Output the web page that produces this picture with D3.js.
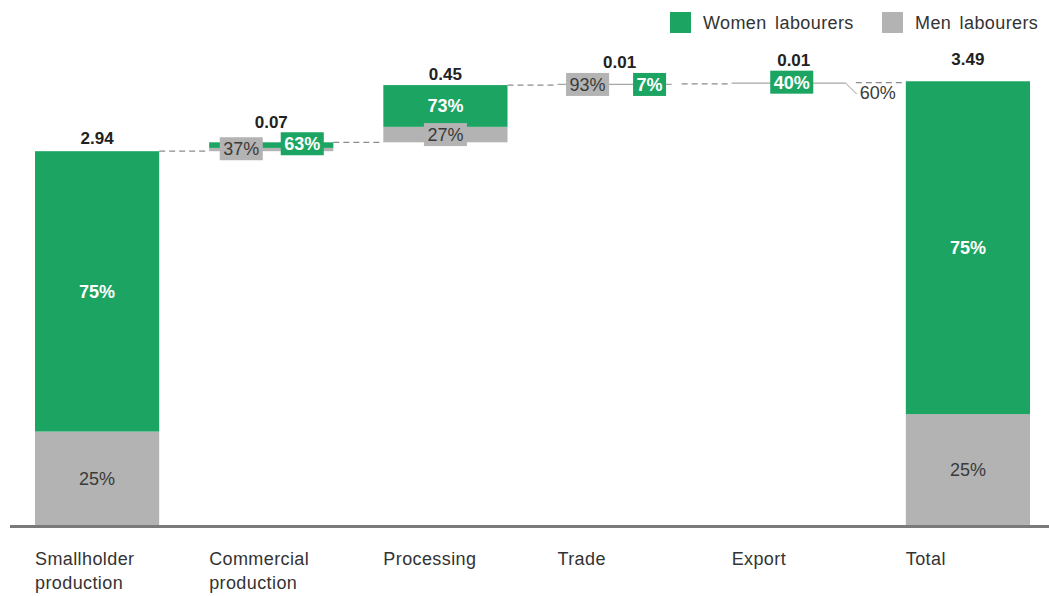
<!DOCTYPE html>
<html>
<head>
<meta charset="utf-8">
<script src="https://d3js.org/d3.v7.min.js"></script>
<style>
  html, body { margin: 0; padding: 0; background: #fff; }
  svg { display: block; font-family: "Liberation Sans", Arial, sans-serif; }
</style>
</head>
<body>
<svg id="chart" width="1049" height="596"></svg>
<script>
// ---- data ----
const categories = ["Smallholder production", "Commercial production", "Processing", "Trade", "Export", "Total"];
const values = [2.94, 0.07, 0.45, 0.01, 0.01, 3.49];
const isTotal = [false, false, false, false, false, true];
const womenShare = [75, 63, 73, 7, 40, 75];
const menShare = [25, 37, 27, 93, 60, 25];
const seriesNames = ["Women labourers", "Men labourers"];

// ---- style / layout ----
const GREEN = "#1ca462", GREY = "#b3b3b3";
const W = 1049, H = 596;
const baseY = 525;
const svg = d3.select("#chart");

const x = d3.scaleBand().domain(categories).range([35, 1030]).paddingInner(0.287).paddingOuter(0);
const y = d3.scaleLinear().domain([0, 3.5]).range([baseY, 80]);

// label offsets for thin bars: [dx from band centre, dy from bar centre]
const labelLayout = {
  1: { women: [31, -3], men: [-30, 2] },
  3: { women: [30, 0], men: [-32, 0] },
  4: { women: [-2, -1], men: "leader" }
};
const valueGap = [7, 4, 5, 5, 5, 16];

// compute bar geometry
let cum = 0;
const bars = categories.map((c, i) => {
  let base, top;
  if (isTotal[i]) { base = 0; top = values[i]; }
  else { base = cum; top = cum + values[i]; cum = top; }
  const menTop = base + values[i] * menShare[i] / 100;
  return { c, i, base, top, menTop };
});

// connectors
const conn = svg.append("g");
bars.forEach((b, i) => {
  if (i === bars.length - 1) return;
  const nb = bars[i + 1];
  conn.append("line")
    .attr("x1", x(b.c) + x.bandwidth()).attr("x2", x(nb.c))
    .attr("y1", y(b.top)).attr("y2", y(b.top))
    .attr("stroke", "#8c8c8c").attr("stroke-width", 1.2)
    .attr("stroke-dasharray", "6,4");
});

// bars
const gBars = svg.append("g");
bars.forEach(b => {
  const hTot = y(b.base) - y(b.top);
  if (hTot < 3) {
    // hairline-thin bar: drawn as a single thin line
    gBars.append("line")
      .attr("x1", x(b.c)).attr("x2", x(b.c) + x.bandwidth() - 10)
      .attr("y1", y((b.top + b.base) / 2)).attr("y2", y((b.top + b.base) / 2))
      .attr("stroke", "#a6a6a6").attr("stroke-width", 1.2);
    return;
  }
  gBars.append("rect")
    .attr("x", x(b.c)).attr("width", x.bandwidth())
    .attr("y", y(b.menTop)).attr("height", y(b.base) - y(b.menTop))
    .attr("fill", GREY);
  gBars.append("rect")
    .attr("x", x(b.c)).attr("width", x.bandwidth())
    .attr("y", y(b.top)).attr("height", y(b.menTop) - y(b.top))
    .attr("fill", GREEN);
});

// axis baseline
svg.append("line").attr("x1", 10).attr("x2", W).attr("y1", baseY + 1.5).attr("y2", baseY + 1.5)
  .attr("stroke", "#7a7a7a").attr("stroke-width", 3);

// share labels
const gLab = svg.append("g");
function boxLabel(cx, cy, text, isWomen) {
  const g = gLab.append("g");
  const t = g.append("text").attr("x", cx).attr("y", cy + 6.5)
    .attr("text-anchor", "middle")
    .attr("font-size", 18)
    .attr("font-weight", isWomen ? "bold" : "normal")
    .attr("fill", isWomen ? "#fff" : "#3a3a3a")
    .text(text);
  const w = t.node().getComputedTextLength() + 7;
  g.insert("rect", "text").attr("x", cx - w / 2).attr("y", cy - 11.5)
    .attr("width", w).attr("height", 23).attr("fill", isWomen ? GREEN : GREY);
  return w;
}
const boxTops = {};
bars.forEach(b => {
  const cx = x(b.c) + x.bandwidth() / 2;
  const lay = labelLayout[b.i];
  boxTops[b.i] = y(b.top);
  if (!lay) {
    const wy = (y(b.top) + y(b.menTop)) / 2;
    const my = (y(b.menTop) + y(b.base)) / 2;
    boxLabel(cx, wy, womenShare[b.i] + "%", true);
    boxLabel(cx, my, menShare[b.i] + "%", false);
  } else {
    const cy = (y(b.top) + y(b.base)) / 2;
    boxLabel(cx + lay.women[0], cy + lay.women[1], womenShare[b.i] + "%", true);
    boxTops[b.i] = Math.min(boxTops[b.i], cy + lay.women[1] - 11.5);
    if (lay.men === "leader") {
      gLab.append("polyline")
        .attr("points", [[cx + 52, cy], [cx + 63, cy + 11]].map(p => p.join(",")).join(" "))
        .attr("fill", "none").attr("stroke", "#999").attr("stroke-width", 1);
      gLab.append("text").attr("x", cx + 66).attr("y", cy + 16)
        .attr("font-size", 18).attr("fill", "#3a3a3a").text(menShare[b.i] + "%");
    } else {
      boxLabel(cx + lay.men[0], cy + lay.men[1], menShare[b.i] + "%", false);
      boxTops[b.i] = Math.min(boxTops[b.i], cy + lay.men[1] - 11.5);
    }
  }
});

// value labels
bars.forEach(b => {
  svg.append("text")
    .attr("x", x(b.c) + x.bandwidth() / 2)
    .attr("y", boxTops[b.i] - valueGap[b.i])
    .attr("text-anchor", "middle").attr("font-size", 17).attr("font-weight", "bold")
    .attr("fill", "#222").text(values[b.i].toFixed(2));
});

// category labels
categories.forEach(c => {
  const words = c.split(" ");
  const t = svg.append("text").attr("x", x(c)).attr("y", 565)
    .attr("font-size", 18).attr("letter-spacing", 0.4).attr("fill", "#333");
  words.forEach((wd, k) => {
    t.append("tspan").attr("x", x(c)).attr("dy", k === 0 ? 0 : 24).text(wd);
  });
});

// legend
const legend = svg.append("g");
const legItems = [{ name: seriesNames[0], color: GREEN, x: 670 }, { name: seriesNames[1], color: GREY, x: 882 }];
legItems.forEach(it => {
  legend.append("rect").attr("x", it.x).attr("y", 12).attr("width", 21).attr("height", 21).attr("fill", it.color);
  legend.append("text").attr("x", it.x + 33).attr("y", 29).attr("font-size", 18)
    .attr("letter-spacing", 0.4).attr("word-spacing", 3).attr("fill", "#333").text(it.name);
});
</script>
</body>
</html>
